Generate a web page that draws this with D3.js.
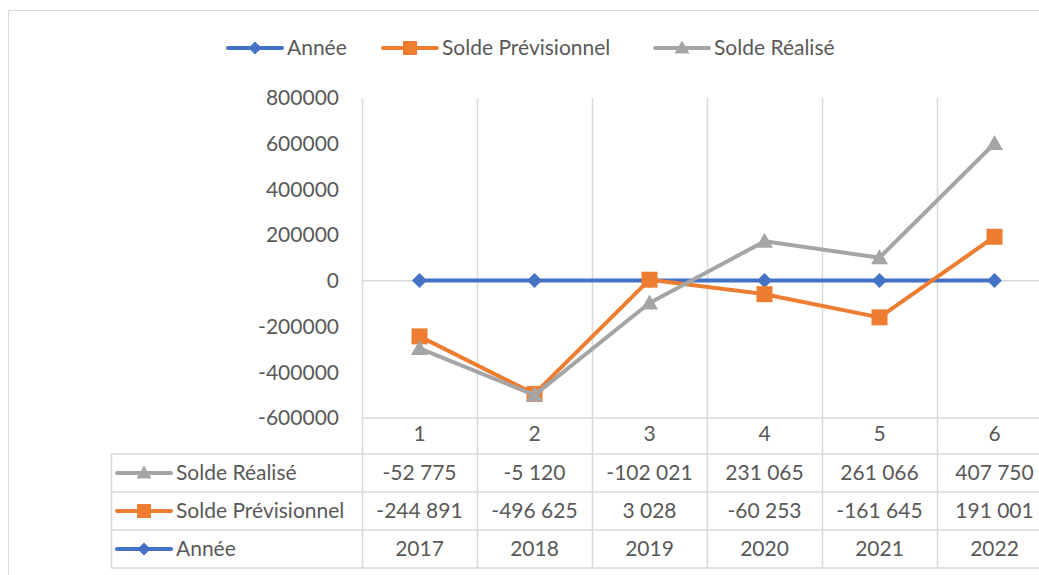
<!DOCTYPE html>
<html>
<head>
<meta charset="utf-8">
<script src="https://cdn.jsdelivr.net/npm/d3@7"></script>
<style>
  html, body { margin: 0; padding: 0; background: #fff; overflow: hidden; }
  svg text { font-family: Lato, "Open Sans", sans-serif; fill: #595959; }
</style>
</head>
<body>
<div id="chart"></div>
<script>
// data (stacked line chart with data table)
var categories = ["1", "2", "3", "4", "5", "6"];
var annee = [2017, 2018, 2019, 2020, 2021, 2022];
var soldePrevisionnel = [-244891, -496625, 3028, -60253, -161645, 191001];
var soldeRealise = [-52775, -5120, -102021, 231065, 261066, 407750];
var yTicks = [-600000, -400000, -200000, 0, 200000, 400000, 600000, 800000];

var seriesNames = ["Année", "Solde Prévisionnel", "Solde Réalisé"];
var seriesColors = ["#4472C4", "#ED7D31", "#A5A5A5"];
var seriesValues = [annee, soldePrevisionnel, soldeRealise];
var seriesSymbols = ["diamond", "square", "triangle"];

var width = 1039,
    height = 575,
    fontSize = "21px";

var svg = d3.select("#chart")
    .append("svg")
    .attr("width", width)
    .attr("height", height);

// chart area border
svg.append("rect")
    .attr("x", 8.5).attr("y", 10.5)
    .attr("width", 1100).attr("height", 600)
    .attr("fill", "none")
    .attr("stroke", "#D9D9D9");

var plotLeft = 362, plotRight = 1052, plotTop = 98, plotBottom = 418;

var x = d3.scaleBand().domain(categories).range([plotLeft, plotRight]);
var y = d3.scaleLinear().domain([-600000, 800000]).range([plotBottom, plotTop]);

// stacked values
var rows = categories.map(function(c, i) {
    var r = {};
    seriesNames.forEach(function(n, k) { r[n] = seriesValues[k][i]; });
    return r;
});
var stacked = d3.stack().keys(seriesNames)(rows);

var numFr = d3.formatLocale({decimal: ",", thousands: " ", grouping: [3], currency: ["", ""], minus: "-"});
var fmtSolde = numFr.format(",d");
var fmtPlain = numFr.format("d");

var rowTop = [454, 492, 530];
var rowBottom = 568;
var tableLeft = 111;

// vertical gridlines / table column lines
var colEdges = categories.map(function(c) { return x(c); }).concat([plotRight]);
svg.selectAll("line.vgrid")
    .data(colEdges)
    .enter()
    .append("line")
    .attr("class", "vgrid")
    .attr("x1", function(d) { return d + 0.5; })
    .attr("x2", function(d) { return d + 0.5; })
    .attr("y1", plotTop)
    .attr("y2", rowBottom)
    .attr("stroke", "#D9D9D9")
    .attr("stroke-width", 1.5);

// horizontal lines: zero axis, table top, table rows
svg.append("line")
    .attr("x1", plotLeft).attr("x2", plotRight)
    .attr("y1", y(0)).attr("y2", y(0))
    .attr("stroke", "#D9D9D9").attr("stroke-width", 1.5);
svg.append("line")
    .attr("x1", plotLeft).attr("x2", plotRight)
    .attr("y1", plotBottom).attr("y2", plotBottom)
    .attr("stroke", "#D9D9D9").attr("stroke-width", 1.5);
svg.selectAll("line.hrow")
    .data(rowTop.concat([rowBottom]))
    .enter()
    .append("line")
    .attr("class", "hrow")
    .attr("x1", tableLeft).attr("x2", plotRight)
    .attr("y1", function(d) { return d; })
    .attr("y2", function(d) { return d; })
    .attr("stroke", "#D9D9D9").attr("stroke-width", 1.5);
svg.append("line")
    .attr("x1", tableLeft + 0.5).attr("x2", tableLeft + 0.5)
    .attr("y1", rowTop[0]).attr("y2", rowBottom)
    .attr("stroke", "#D9D9D9").attr("stroke-width", 1.5);

// y axis
var yAxis = svg.append("g")
    .attr("transform", "translate(" + 339 + ",0)")
    .call(d3.axisLeft(y).tickValues(yTicks).tickSize(0).tickPadding(0).tickFormat(fmtPlain));
yAxis.select(".domain").remove();
yAxis.selectAll("text")
    .style("font-size", fontSize)
    .attr("fill", "#595959");

// category labels
var xAxis = svg.append("g")
    .attr("transform", "translate(0," + plotBottom + ")")
    .call(d3.axisBottom(x).tickSize(0).tickPadding(8));
xAxis.select(".domain").remove();
xAxis.selectAll("text")
    .style("font-size", fontSize)
    .attr("fill", "#595959");

function symbolPath(type, s) {
    if (type == "diamond") return "M0," + (-s) + "L" + s + ",0L0," + s + "L" + (-s) + ",0Z";
    if (type == "square") return "M" + (-s) + "," + (-s) + "h" + (2 * s) + "v" + (2 * s) + "h" + (-2 * s) + "Z";
    return "M0," + (-s - 1) + "L" + (s + 1) + "," + (s - 1) + "L" + (-s - 1) + "," + (s - 1) + "Z";
}
var markSize = {diamond: 7.5, square: 8, triangle: 7.5};

var line = d3.line()
    .x(function(d, i) { return x(categories[i]) + x.bandwidth() / 2; })
    .y(function(d) { return y(d[1]); });

stacked.forEach(function(layer, k) {
    var g = svg.append("g").attr("class", "series");
    g.append("path")
        .datum(layer)
        .attr("d", line)
        .attr("fill", "none")
        .attr("stroke", seriesColors[k])
        .attr("stroke-width", 4)
        .attr("stroke-linejoin", "round");
    g.selectAll("path.mark")
        .data(layer)
        .enter()
        .append("path")
        .attr("class", "mark")
        .attr("d", symbolPath(seriesSymbols[k], markSize[seriesSymbols[k]]))
        .attr("fill", seriesColors[k])
        .attr("transform", function(d, i) {
            return "translate(" + (x(categories[i]) + x.bandwidth() / 2) + "," + y(d[1]) + ")";
        });
});

// legend key helper
function legendKey(g, k, x0, yy) {
    g.append("line")
        .attr("x1", x0).attr("x2", x0 + 54)
        .attr("y1", yy).attr("y2", yy)
        .attr("stroke", seriesColors[k])
        .attr("stroke-width", 4)
        .attr("stroke-linecap", "round");
    g.append("path")
        .attr("d", symbolPath(seriesSymbols[k], markSize[seriesSymbols[k]] - 1))
        .attr("fill", seriesColors[k])
        .attr("transform", "translate(" + (x0 + 27) + "," + yy + ")");
}

// top legend
var legendX = [228, 383, 655];
var legend = svg.append("g").attr("class", "legend");
seriesNames.forEach(function(n, k) {
    legendKey(legend, k, legendX[k], 48);
    legend.append("text")
        .attr("x", legendX[k] + 59)
        .attr("y", 48)
        .attr("dy", "0.35em")
        .style("font-size", fontSize)
        .text(n);
});

// data table
var tableOrder = [2, 1, 0];
var table = svg.append("g").attr("class", "table");
tableOrder.forEach(function(k, r) {
    var cy = rowTop[r] + 19;
    legendKey(table, k, 117, cy);
    table.append("text")
        .attr("x", 176)
        .attr("y", cy)
        .attr("dy", "0.35em")
        .style("font-size", fontSize)
        .text(seriesNames[k]);
    table.selectAll("text.cell" + k)
        .data(seriesValues[k])
        .enter()
        .append("text")
        .attr("class", "cell" + k)
        .attr("x", function(d, i) { return x(categories[i]) + x.bandwidth() / 2; })
        .attr("y", cy)
        .attr("dy", "0.35em")
        .attr("text-anchor", "middle")
        .style("font-size", fontSize)
        .text(function(d) { return k == 0 ? fmtPlain(d) : fmtSolde(d); });
});
</script>
</body>
</html>
